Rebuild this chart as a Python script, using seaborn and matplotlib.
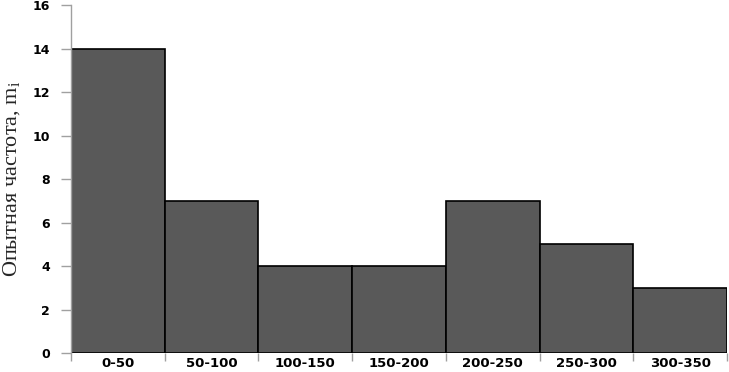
import matplotlib
matplotlib.use("Agg")
import matplotlib.pyplot as plt
import seaborn as sns
import pandas as pd
import numpy as np

intervals = ["0-50", "50-100", "100-150", "150-200", "200-250", "250-300", "300-350"]
frequency = [14, 7, 4, 4, 7, 5, 3]

df = pd.DataFrame({"interval": intervals, "freq": frequency})

sns.set_style("white")
plt.rcParams["mathtext.fontset"] = "stix"

fig = plt.figure(figsize=(7.29, 3.72), dpi=100)
ax = fig.add_axes([0.0974, 0.051, 0.9, 0.935])

sns.barplot(data=df, x="interval", y="freq", width=1.0, color="#595959",
            saturation=1, edgecolor="black", linewidth=1.2, ax=ax)

ax.set_xlim(-0.5, len(intervals) - 0.5)
ax.set_ylim(0, 16)
ax.set_yticks(range(0, 17, 2))
ax.set_xlabel("")
ax.set_ylabel("Опытная частота, m$_{\\mathregular{i}}$", family="Liberation Serif",
              fontsize=16)
ax.yaxis.set_label_coords(-0.075, 0.5)

for s in ["top", "right", "bottom"]:
    ax.spines[s].set_visible(False)
ax.spines["left"].set_color("#a0a0a0")
ax.spines["left"].set_linewidth(1)

ax.tick_params(axis="y", which="major", length=7, color="#a0a0a0", width=1,
               labelsize=9, pad=8, left=True, labelcolor="black")
ax.tick_params(axis="x", which="major", length=0, labelsize=9.5, pad=3,
               labelcolor="black")
ax.set_xticks(np.arange(-0.5, len(intervals), 1.0), minor=True)
ax.tick_params(axis="x", which="minor", length=6, color="#a0a0a0", width=1, bottom=True)

for lab in ax.get_xticklabels() + ax.get_yticklabels():
    lab.set_fontweight("bold")
    lab.set_family("DejaVu Sans")

fig.savefig("out.png", dpi=100)
